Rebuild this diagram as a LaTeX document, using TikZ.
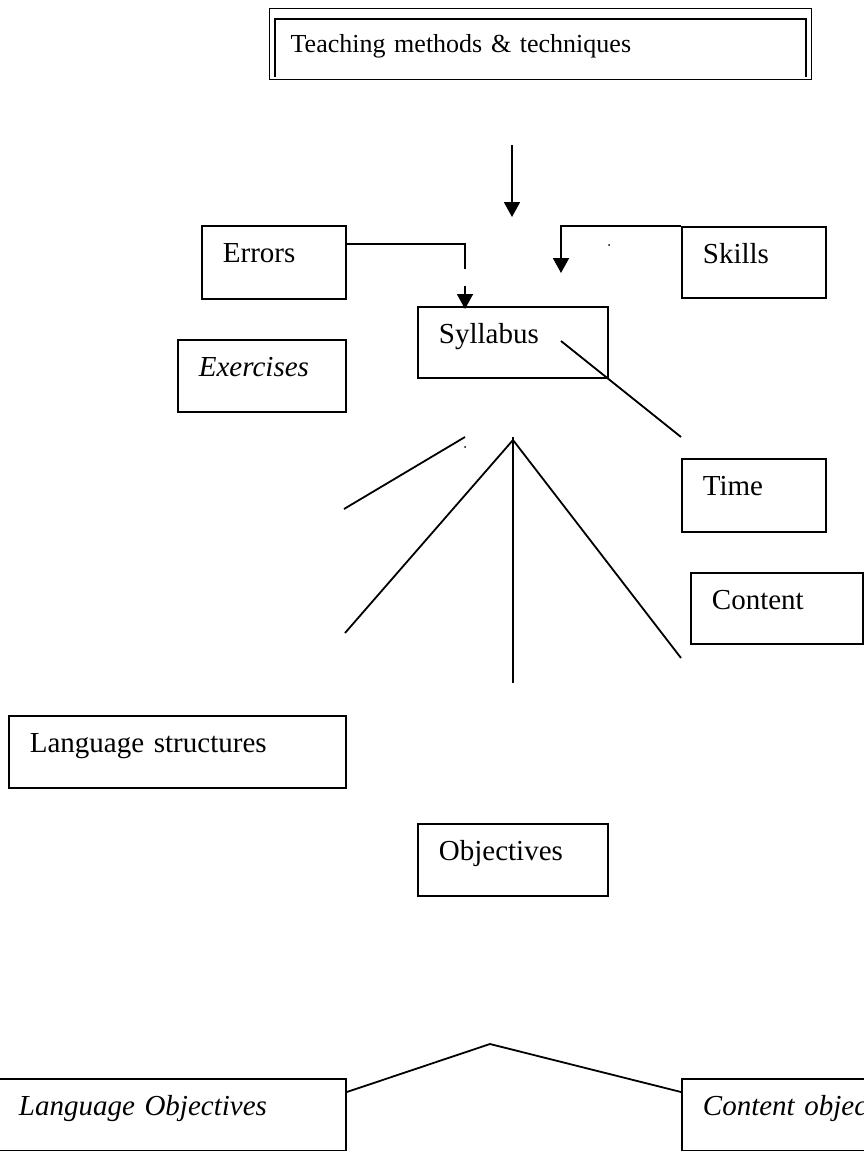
\documentclass[tikz,border=0pt]{standalone}
\usepackage{fontspec}
\setmainfont{Liberation Serif}
\usetikzlibrary{arrows.meta,calc}

\tikzset{
  box/.style={draw, line width=1.8pt, anchor=north west, inner xsep=21pt,
    inner ysep=0pt, align=left, text height=37pt,
    font=\fontsize{29}{34}\selectfont},
  link/.style={line width=1.8pt},
  arr/.style={line width=1.8pt, -{Triangle[width=16pt,length=15pt]}},
  speck/.style={fill=black, draw=none},
}

\begin{document}
\begin{tikzpicture}[x=1pt, y=-1pt]
  \useasboundingbox (0,0) rectangle (864,1151);
  \clip (0,0) rectangle (864,1151);

  % title box with its open inner frame
  \node[box, line width=1.3pt, text width=500pt, text height=44pt, text depth=27pt,
        font=\fontsize{26}{31}\selectfont]
    (teach) at (269,8) {Teaching methods \& techniques};
  \draw[line width=2pt]
    ([shift={(6,69)}]teach.north west) -- ([shift={(6,11)}]teach.north west)
    -- ([shift={(-6,11)}]teach.north east) -- ([shift={(-6,69)}]teach.north east);

  % boxes
  \node[box, text width=102pt, text depth=36pt] (errors)    at (201,225) {Errors};
  \node[box, text width=102pt, text depth=34pt] (skills)    at (681,226) {Skills};
  \node[box, text width=148pt, text depth=34pt] (syllabus)  at (417,306) {Syllabus};
  \node[box, text width=126pt, text depth=35pt] (exercises) at (177,339) {\itshape Exercises};
  \node[box, text width=102pt, text depth=36pt] (time)      at (681,458) {Time};
  \node[box, text width=130pt, text depth=34pt] (content)   at (690,572) {Content};
  \node[box, text width=295pt, text depth=35pt] (langstr)   at (8,715)   {Language structures};
  \node[box, text width=148pt, text depth=35pt] (objectives) at (417,823) {Objectives};
  \node[box, text width=306pt, text depth=35pt] (langobj)   at (-3,1078) {\itshape Language Objectives};
  \node[box, text width=220pt, text depth=35pt] (contobj)   at (681,1078) {\itshape Content objectives};

  % free ends of the connectors
  \coordinate (topA)  at (512,145);
  \coordinate (topB)  at (512,217);
  \coordinate (errA)  at (465,269);
  \coordinate (errB)  at (465,286);
  \coordinate (errC)  at (465,309);
  \coordinate (sklA)  at (561,273);
  \coordinate (diagA) at (561,341);
  \coordinate (diagB) at (681,437);
  \coordinate (apex)  at (513,440);
  \coordinate (vtop)  at (513,437);
  \coordinate (vbot)  at (513,683);
  \coordinate (legL)  at (345,633);
  \coordinate (legR)  at (681,658);
  \coordinate (shA)   at (344,509);
  \coordinate (shB)   at (465,437);
  \coordinate (bapex) at (490,1044);

  % connectors
  \draw[arr] (topA) -- (topB);
  \draw[link] ($(errors.north east)+(0,19)$) -| (errA);
  \draw[arr] (errB) -- (errC);
  \draw[arr] (skills.north west) -| (sklA);
  \draw[link] (diagA) -- (diagB);
  \draw[link] (vtop) -- (vbot);
  \draw[link] (legL) -- (apex) -- (legR);
  \draw[link] (shA) -- (shB);
  \draw[link] ($(langobj.north east)+(0,14)$) -- (bapex) -- ($(contobj.north west)+(0,14)$);

  % stray specks
  \fill[speck] (609,245) circle (1pt);
  \fill[speck] (465,447) circle (1pt);
\end{tikzpicture}
\end{document}
